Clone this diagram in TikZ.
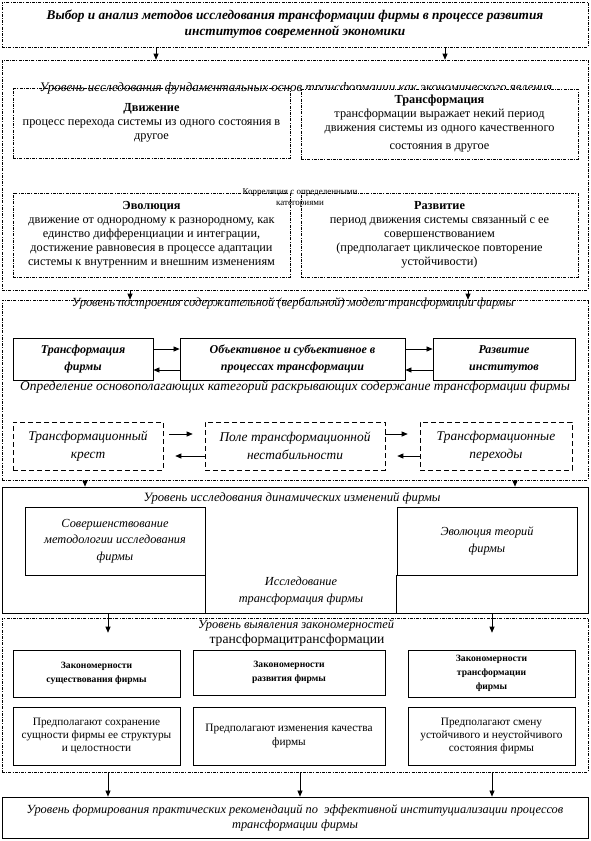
\documentclass[tikz,border=0pt]{standalone}
\usepackage{fontspec}
\setmainfont{Liberation Serif}
\usetikzlibrary{arrows.meta}
\tikzset{
  ddline/.style={draw, line width=0.6pt, dash pattern=on 3pt off 1.2pt on 1pt off 1.2pt},
  outerdd/.style={ddline, inner sep=0pt},
  solidbox/.style={draw, line width=0.8pt, inner sep=1pt, align=center},
  ddbox/.style={ddline, inner sep=1pt, align=center},
  dbox/.style={draw, line width=0.6pt, dash pattern=on 5pt off 3pt, inner sep=1pt, align=center},
  arr/.style={line width=0.7pt, -{Triangle[length=6pt,width=5pt]}},
  lvltitle/.style={inner sep=0pt, font=\fontsize{12.4}{14}\selectfont\itshape},
  bodyA/.style={font=\fontsize{12.3}{14}\selectfont},
  rowE/.style={font=\fontsize{12}{17}\selectfont\bfseries\itshape},
  rowF/.style={font=\fontsize{13.4}{18}\selectfont\itshape},
  rowG/.style={font=\fontsize{12.3}{16.5}\selectfont\itshape},
  rowH/.style={font=\fontsize{9.6}{14}\selectfont\bfseries},
  rowI/.style={font=\fontsize{11.3}{13.2}\selectfont},
}
\begin{document}
\begin{tikzpicture}[x=1pt,y=-1pt]
\useasboundingbox (0,0) rectangle (590,841);
% Level 1
\node[outerdd, minimum width=586pt, minimum height=45pt, align=center,
      font=\fontsize{13.3}{16}\selectfont\bfseries\itshape] (L1) at (295,24.5)
  {Выбор и анализ методов исследования трансформации фирмы в процессе развития\\институтов современной экономики};
% Level 2
\node[outerdd, minimum width=586pt, minimum height=230pt] (L2) at (295,175) {};
\node[lvltitle, font=\fontsize{13}{14}\selectfont\itshape] (L2t) at (296,88) {Уровень исследования фундаментальных основ трансформации как экономического явления};
\node[ddbox, bodyA, minimum width=277pt, minimum height=70pt] (A) at (151.5,123)
  {\textbf{Движение}\\процесс перехода системы из одного состояния в\\другое};
\node[ddbox, bodyA, fill=white, minimum width=277pt, minimum height=70pt] (B) at (439.5,124)
  {\textbf{Трансформация}\\трансформации выражает некий период\\движения системы из одного качественного\\[4pt]состояния в другое};
\node[ddbox, bodyA, minimum width=277pt, minimum height=84pt] (C) at (151.5,235)
  {\textbf{Эволюция}\\движение от однородному к разнородному, как\\единство дифференциации и интеграции,\\достижение равновесия в процессе адаптации\\системы к внутренним и внешним изменениям};
\node[ddbox, bodyA, minimum width=277pt, minimum height=84pt] (D) at (439.5,235)
  {\textbf{Развитие}\\период движения системы связанный с ее\\совершенствованием\\(предполагает циклическое повторение\\устойчивости)};
\node[inner sep=0pt, align=center, font=\fontsize{9}{10.5}\selectfont] (corr) at (300,198)
  {Корреляция с определенными\\категориями};
% Level 3
\node[outerdd, minimum width=586pt, minimum height=180pt] (L3) at (295,390) {};
\node[lvltitle] (L3t) at (293,303) {Уровень построения содержательной (вербальной) модели трансформации фирмы};
\node[solidbox, rowE, minimum width=140pt, minimum height=42pt] (E1) at (83,359) {Трансформация\\фирмы};
\node[solidbox, rowE, minimum width=225pt, minimum height=42pt] (E2) at (292.5,359) {Объективное и субъективное в\\процессах трансформации};
\node[solidbox, rowE, minimum width=142pt, minimum height=42pt] (E3) at (504,359) {Развитие\\институтов};
\node[lvltitle, font=\fontsize{13.4}{14}\selectfont\itshape] (L3s) at (295,387) {Определение основополагающих категорий раскрывающих содержание трансформации фирмы};
\node[dbox, rowF, minimum width=150pt, minimum height=48pt] (F1) at (88,446) {Трансформационный\\крест};
\node[dbox, rowF, minimum width=180pt, minimum height=48pt] (F2) at (295,446) {Поле трансформационной\\нестабильности};
\node[dbox, rowF, minimum width=152pt, minimum height=48pt] (F3) at (496,446) {Трансформационные\\переходы};
% Level 4
\node[solidbox, minimum width=586pt, minimum height=126pt] (L4) at (295,550) {};
\node[lvltitle, font=\fontsize{12.7}{14}\selectfont\itshape] (L4t) at (292,498) {Уровень исследования динамических изменений фирмы};
\node[solidbox, rowG, minimum width=180pt, minimum height=68pt] (G1) at (115,541) {Совершенствование\\методологии исследования\\фирмы};
\node[solidbox, rowG, minimum width=180pt, minimum height=68pt] (G2) at (487,541) {Эволюция теорий\\фирмы};
\node[rowG, align=center, inner sep=0pt] (G3) at (301,591) {Исследование\\трансформация фирмы};
% Level 5
\node[outerdd, minimum width=586pt, minimum height=154pt] (L5) at (295,695) {};
\node[lvltitle] (L5t) at (296,625) {Уровень выявления закономерностей};
\node[inner sep=0pt, font=\fontsize{13.6}{14}\selectfont] (L5u) at (297,640) {трансформацитрансформации};
\node[solidbox, rowH, minimum width=167pt, minimum height=47pt] (H1) at (96.5,673.5) {Закономерности\\существования  фирмы};
\node[solidbox, rowH, minimum width=192pt, minimum height=45pt] (H2) at (289,672.5) {Закономерности\\развития фирмы};
\node[solidbox, rowH, minimum width=167pt, minimum height=47pt] (H3) at (491.5,673.5) {Закономерности\\трансформации\\фирмы};
\node[solidbox, rowI, minimum width=167pt, minimum height=58pt] (I1) at (96.5,736) {Предполагают сохранение\\сущности фирмы ее структуры\\и целостности};
\node[solidbox, rowI, minimum width=192pt, minimum height=58pt] (I2) at (289,736) {Предполагают изменения качества\\фирмы};
\node[solidbox, rowI, minimum width=167pt, minimum height=58pt] (I3) at (491.5,736) {Предполагают смену\\устойчивого и неустойчивого\\состояния фирмы};
% Level 6
\node[solidbox, minimum width=586pt, minimum height=41pt,
      font=\fontsize{12.4}{15}\selectfont\itshape] (L6) at (295,817.5)
  {Уровень формирования практических рекомендаций по \ эффективной институциализации процессов\\трансформации фирмы};
% Vertical lines in level 4
\draw[line width=0.8pt] (G1.south east) -- (G1.south east |- L4.south);
\draw[line width=0.8pt] (G2.south west) -- (G2.south west |- L4.south);
% Arrows between levels
\draw[arr] ([xshift=-139pt]L1.south) -- ([xshift=-139pt]L2.north);
\draw[arr] ([xshift=150pt]L1.south) -- ([xshift=150pt]L2.north);
\draw[arr] ([xshift=-165pt]L2.south) -- ([xshift=-165pt]L3.north);
\draw[arr] ([xshift=173pt]L2.south) -- ([xshift=173pt]L3.north);
\draw[arr] ([xshift=-210pt]L3.south) -- ([xshift=-210pt]L4.north);
\draw[arr] ([xshift=220pt]L3.south) -- ([xshift=220pt]L4.north);
\draw[arr] ([xshift=-187pt]L4.south) -- ([xshift=-187pt,yshift=-15pt]L5.north);
\draw[arr] ([xshift=197pt]L4.south) -- ([xshift=197pt,yshift=-15pt]L5.north);
\draw[arr] ([xshift=-187pt]L5.south) -- ([xshift=-187pt]L6.north);
\draw[arr] ([xshift=5pt]L5.south) -- ([xshift=5pt]L6.north);
\draw[arr] ([xshift=197pt]L5.south) -- ([xshift=197pt]L6.north);
% Row E arrows
\draw[arr] ([yshift=10pt]E1.east) -- ([yshift=10pt]E2.west);
\draw[arr] ([yshift=-11pt]E2.west) -- ([yshift=-11pt]E1.east);
\draw[arr] ([yshift=10pt]E2.east) -- ([yshift=10pt]E3.west);
\draw[arr] ([yshift=-11pt]E3.west) -- ([yshift=-11pt]E2.east);
% Row F arrows
\draw[arr, shorten <=6pt, shorten >=12pt] ([yshift=12pt]F1.east) -- ([yshift=12pt]F2.west);
\draw[arr, shorten >=12pt] ([yshift=-10pt]F2.west) -- ([yshift=-10pt]F1.east);
\draw[arr, shorten >=12pt] ([yshift=12pt]F2.east) -- ([yshift=12pt]F3.west);
\draw[arr, shorten >=12pt] ([yshift=-10pt]F3.west) -- ([yshift=-10pt]F2.east);
\end{tikzpicture}
\end{document}
